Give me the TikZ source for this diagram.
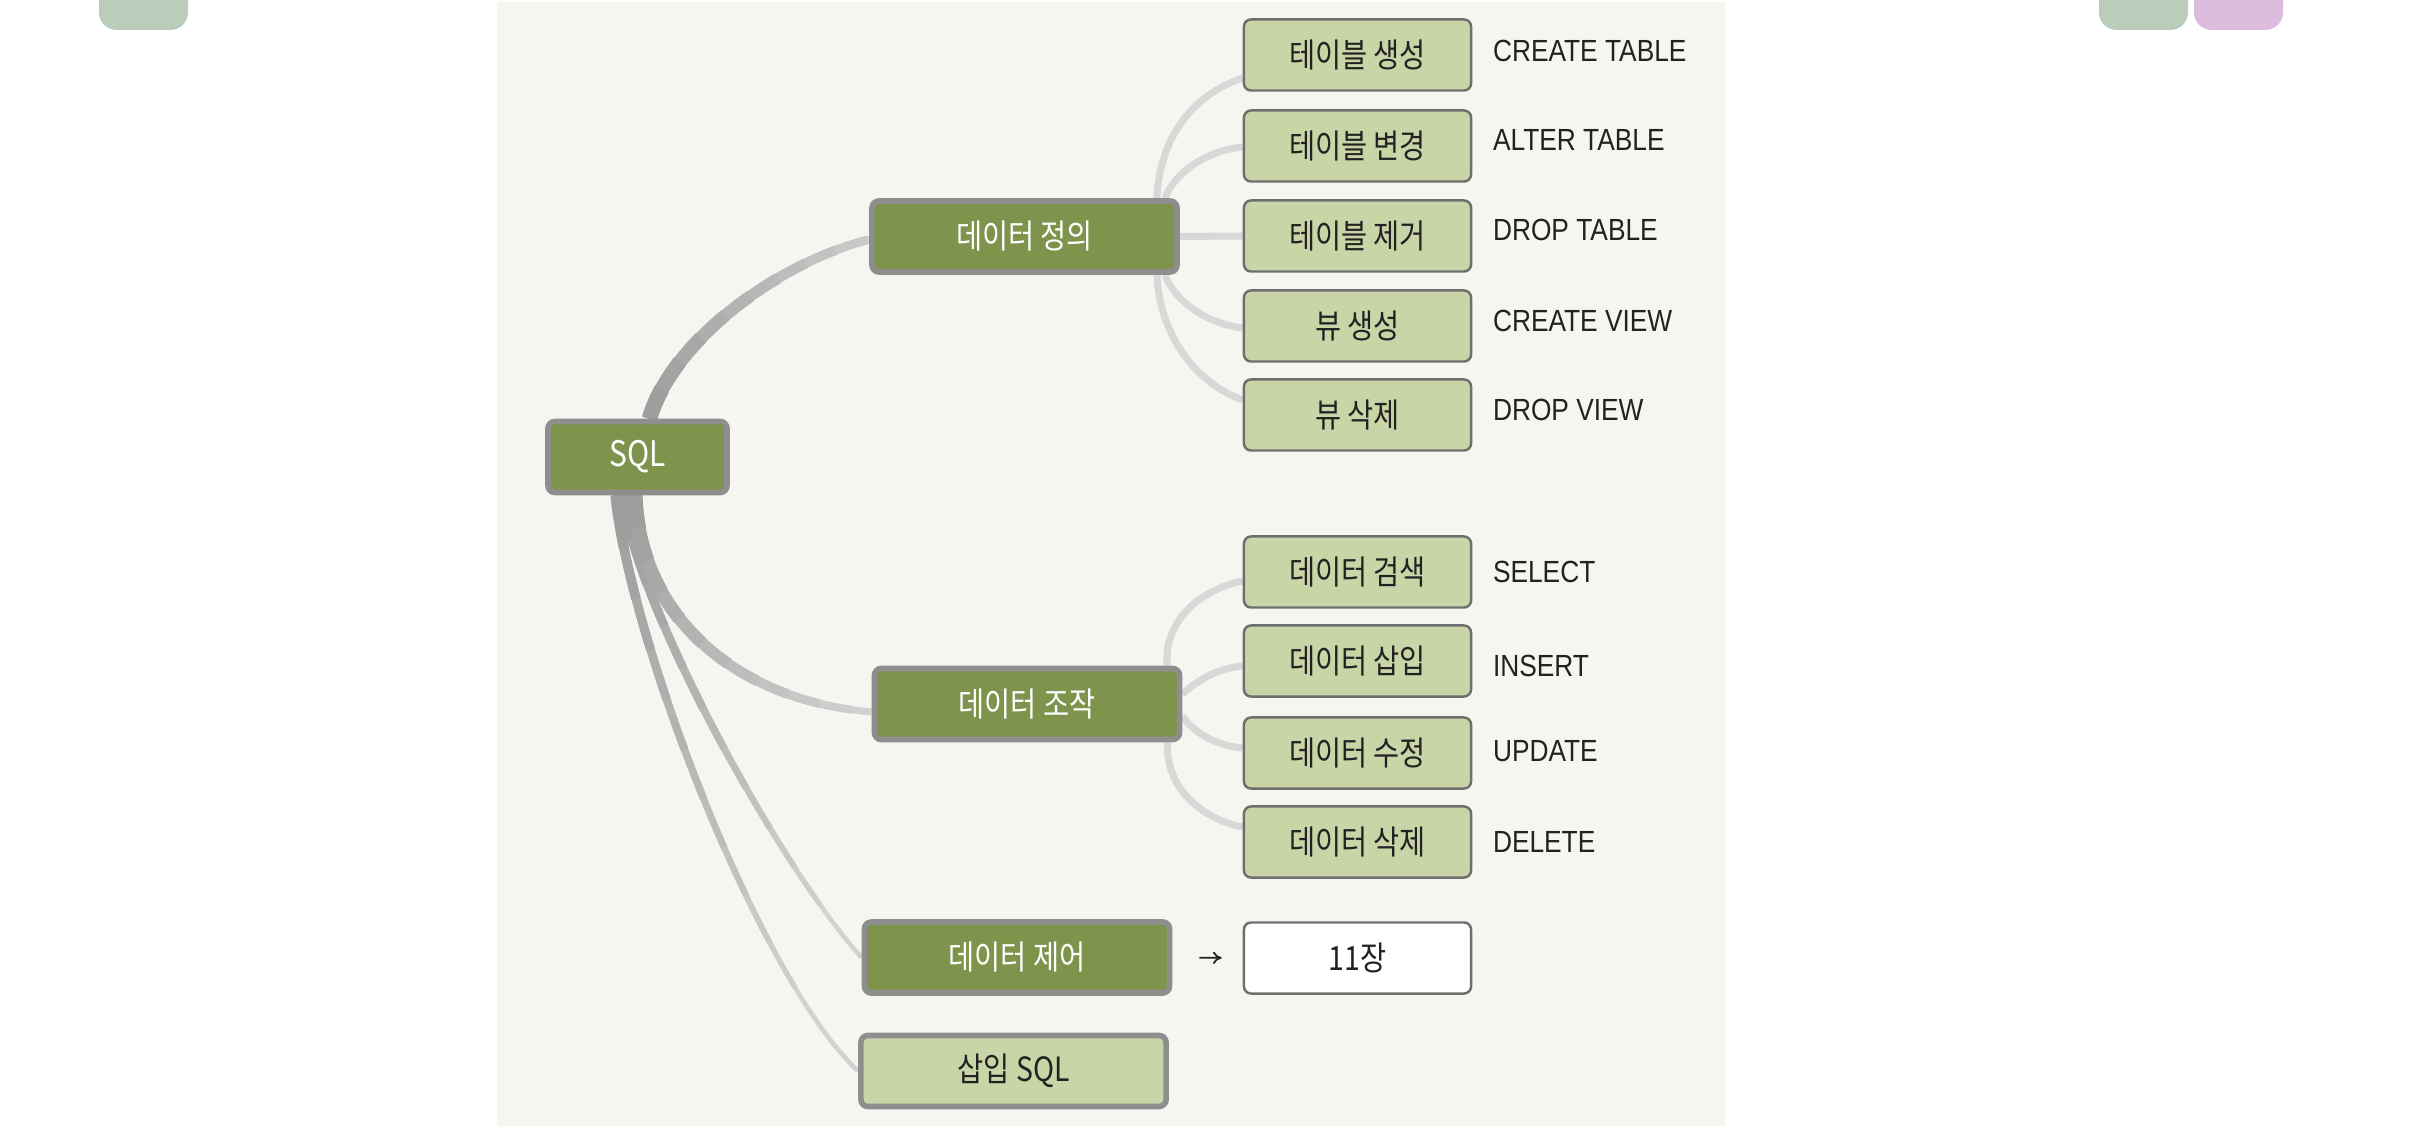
\documentclass[tikz,border=0pt]{standalone}
\usepackage{fontspec}
\setmainfont{Liberation Sans}[FakeStretch=0.86]
\newfontfamily\krfont{Noto Sans CJK KR}[FakeStretch=0.85]
\usetikzlibrary{arrows.meta,calc}
\pgfdeclarelayer{back}
\pgfdeclarelayer{conn}
\pgfsetlayers{back,conn,main}
\definecolor{panel}{HTML}{F4F6EF}
\definecolor{darkg}{HTML}{7E944C}
\definecolor{lightg}{HTML}{C9D5A7}
\definecolor{bordd}{HTML}{8E8E8E}
\definecolor{bordl}{HTML}{6F6F6F}
\definecolor{txt}{HTML}{222222}
\definecolor{subline}{HTML}{D8D8D8}
\definecolor{mlA}{HTML}{D2D2D2}
\definecolor{mlC}{HTML}{9E9E9E}
\definecolor{tabg}{HTML}{BACCBA}
\definecolor{tabp}{HTML}{DCBCDC}
% #1 start, #2 c1, #3 c2, #4 end, #5 end width (pt), #6 extra width (pt), #7 taper length (pt)
\newcommand\mconn[7]{%
  \draw[line width=#5pt, draw=mlA] #1 .. controls #2 and #3 .. #4;
  \foreach \k in {1,...,10}{%
    \pgfmathsetmacro\tlen{#7*(1-(\k-1)/10)}%
    \pgfmathsetmacro\tw{#5+#6*\k/10}%
    \pgfmathtruncatemacro\tpc{\k*10}%
    \draw[line width=\tw pt, draw=mlC!\tpc!mlA, dash pattern=on \tlen pt off 9000pt] #1 .. controls #2 and #3 .. #4;
  }%
}
\tikzset{
  mainbox/.style={draw=bordd, line width=1.6pt, fill=darkg, rounded corners=2pt,
    minimum width=3.05cm, minimum height=0.71cm, inner sep=0pt, text=white,
    font=\fontsize{9.5}{11}\selectfont\krfont},
  subbox/.style={draw=bordl, line width=0.7pt, fill=lightg, rounded corners=2pt,
    minimum width=2.27cm, minimum height=0.71cm, inner sep=0pt, text=txt,
    font=\fontsize{9.5}{11}\selectfont\krfont},
  refbox/.style={subbox, fill=white},
  lbl/.style={anchor=west, inner sep=0pt, text=txt, font=\fontsize{8.7}{10}\selectfont},
  subconn/.style={draw=subline, line width=2pt},
}
\begin{document}
\begin{tikzpicture}[x=0.01cm,y=-0.01cm]
\useasboundingbox (0,0) rectangle (2418,1134);
\begin{pgfonlayer}{back}
\fill[white] (0,0) rectangle (2418,1134);
\fill[panel] (497,2) rectangle (1725,1126);
\fill[tabg, rounded corners=5pt] (99,-20) rectangle (188,30);
\fill[tabg, rounded corners=5pt] (2099,-20) rectangle (2188,30);
\fill[tabp, rounded corners=5pt] (2194,-20) rectangle (2283,30);
\end{pgfonlayer}

% main nodes
\node[mainbox, minimum width=1.79cm, font=\fontsize{10}{11}\selectfont\krfont] (sql) at (637.5,457) {SQL};
\node[mainbox] (ddl) at (1024.5,236.5) {데이터 정의};
\node[mainbox] (dml) at (1027,704) {데이터 조작};
\node[mainbox] (dcl) at (1017,957.5) {데이터 제어};
\node[subbox, minimum width=3.05cm, line width=1.6pt, draw=bordd] (esql) at (1013.5,1071) {삽입 SQL};

% sub nodes
\node[subbox] (c1) at (1357.5,55) {테이블 생성};
\node[subbox] (c2) at (1357.5,146) {테이블 변경};
\node[subbox] (c3) at (1357.5,236) {테이블 제거};
\node[subbox] (c4) at (1357.5,326) {뷰 생성};
\node[subbox] (c5) at (1357.5,415) {뷰 삭제};
\node[subbox] (m1) at (1357.5,572) {데이터 검색};
\node[subbox] (m2) at (1357.5,661) {데이터 삽입};
\node[subbox] (m3) at (1357.5,753) {데이터 수정};
\node[subbox] (m4) at (1357.5,842) {데이터 삭제};
\node[refbox] (r11) at (1357.5,958) {11장};

% labels
\node[lbl] (l1) at ([shift={(20,-4)}]c1.east) {CREATE TABLE};
\node[lbl] (l2) at ([shift={(20,-6)}]c2.east) {ALTER TABLE};
\node[lbl] (l3) at ([shift={(20,-6)}]c3.east) {DROP TABLE};
\node[lbl] (l4) at ([shift={(20,-5)}]c4.east) {CREATE VIEW};
\node[lbl] (l5) at ([shift={(20,-5)}]c5.east) {DROP VIEW};
\node[lbl] (l6) at ([shift={(20,0)}]m1.east) {SELECT};
\node[lbl] (l7) at ([shift={(20,5)}]m2.east) {INSERT};
\node[lbl] (l8) at ([shift={(20,-2)}]m3.east) {UPDATE};
\node[lbl] (l9) at ([shift={(20,0)}]m4.east) {DELETE};

% arrow to 11장
\draw[line width=0.5pt, draw=txt, -{To[length=2.5pt,width=3.5pt]}, shorten <=0.27cm, shorten >=0.21cm] (dcl.east) -- (r11.west);

\begin{pgfonlayer}{conn}
% main connectors
\mconn{([shift={(-22,0)}]sql.south)}{(630,640)}{(760,980)}{(esql.west)}{1.3}{1.6}{150}
\mconn{([shift={(-15,0)}]sql.south)}{(640,620)}{(790,880)}{(dcl.west)}{1.3}{1.6}{130}
\mconn{([shift={(-3,0)}]sql.south)}{(638,610)}{(730,700)}{([shift={(0,8)}]dml.west)}{2}{2.6}{95}
\mconn{([shift={(12,0)}]sql.north)}{(672,340)}{(780,262)}{([shift={(0,3)}]ddl.west)}{2}{2.4}{92}
% definition children
\draw[subconn] ([shift={(-23,0)}]ddl.north east) .. controls (1160,130) and (1200,92) .. ([shift={(0,23)}]c1.west);
\draw[subconn] ([shift={(-15,0)}]ddl.north east) .. controls (1175,172) and (1208,150) .. ([shift={(0,1)}]c2.west);
\draw[subconn] (ddl.east) -- (c3.west);
\draw[subconn] ([shift={(-15,0)}]ddl.south east) .. controls (1175,302) and (1208,324) .. ([shift={(0,2)}]c4.west);
\draw[subconn] ([shift={(-23,0)}]ddl.south east) .. controls (1160,340) and (1200,385) .. ([shift={(0,-15)}]c5.west);
% manipulation children
\draw[subconn] ([shift={(-15,0)}]dml.north east) .. controls (1163,630) and (1190,592) .. ([shift={(0,9)}]m1.west);
\draw[subconn] ([shift={(0,-10)}]dml.east) .. controls (1200,678) and (1220,668) .. ([shift={(0,5)}]m2.west);
\draw[subconn] ([shift={(0,12)}]dml.east) .. controls (1195,735) and (1220,746) .. ([shift={(0,-5)}]m3.west);
\draw[subconn] ([shift={(-15,0)}]dml.south east) .. controls (1165,790) and (1205,820) .. ([shift={(0,-15)}]m4.west);
\end{pgfonlayer}
\end{tikzpicture}
\end{document}
